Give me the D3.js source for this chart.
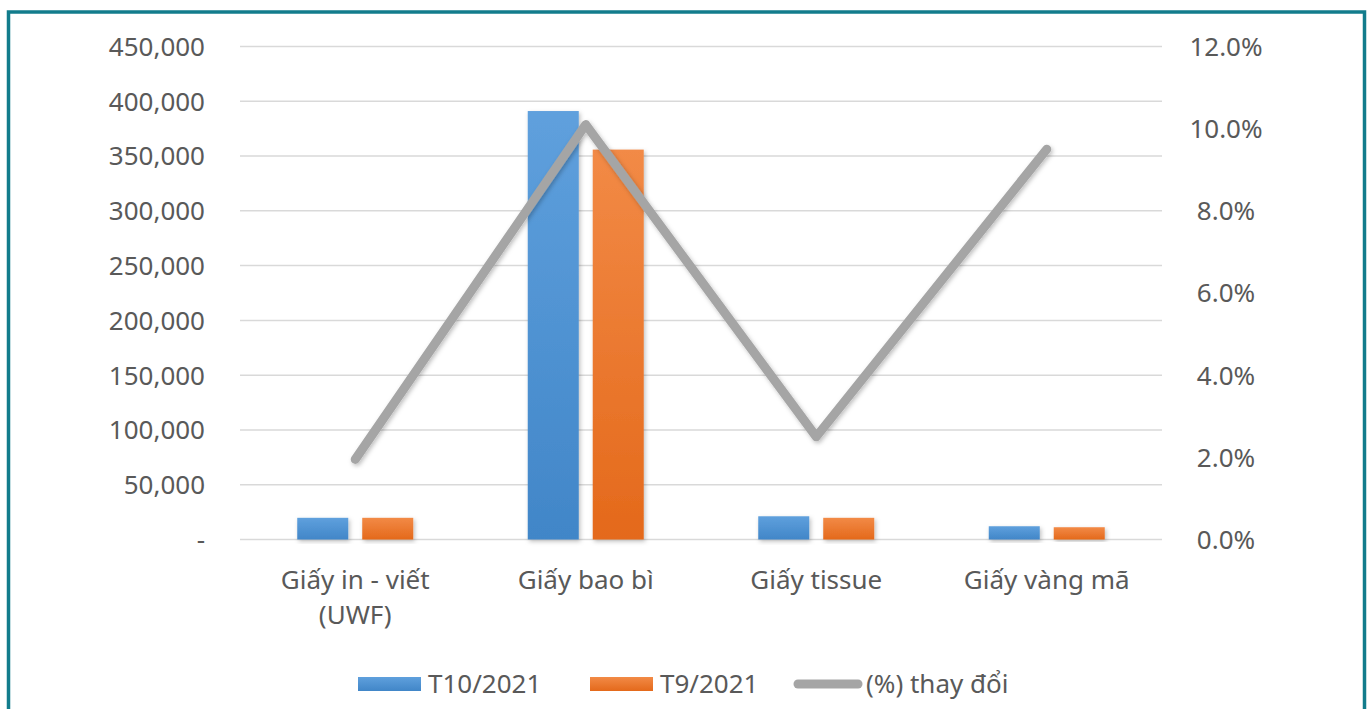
<!DOCTYPE html>
<html>
<head>
<meta charset="utf-8">
<script src="https://cdn.jsdelivr.net/npm/d3@7"></script>
<style>
  html, body { margin: 0; padding: 0; background: #fff; }
  svg { display: block; }
</style>
</head>
<body>
<div id="vis"></div>
<script>
const width = 1370;
const height = 709;

// data
const categories = ["Giấy in - viết\n(UWF)", "Giấy bao bì", "Giấy tissue", "Giấy vàng mã"];
const seriesNames = ["T10/2021", "T9/2021"];
const t10 = [19800, 391100, 21200, 12100];
const t9 = [19800, 355900, 19800, 11200];
const pctChange = [0.0195, 0.101, 0.025, 0.095];
const lineName = "(%) thay đổi";
const leftTicks = [0, 50000, 100000, 150000, 200000, 250000, 300000, 350000, 400000, 450000];
const rightTicks = [0, 0.02, 0.04, 0.06, 0.08, 0.10, 0.12];

const font = "'Noto Sans', 'DejaVu Sans', sans-serif";
const textColor = "#595959";

const svg = d3.select("#vis")
  .append("svg")
  .attr("width", width)
  .attr("height", height);

const defs = svg.append("defs");

function gradient(id, top, bottom) {
  const g = defs.append("linearGradient")
    .attr("id", id)
    .attr("x1", 0).attr("y1", 0).attr("x2", 0).attr("y2", 1);
  g.append("stop").attr("offset", "0%").attr("stop-color", top);
  g.append("stop").attr("offset", "100%").attr("stop-color", bottom);
}
gradient("gBlue", "#5fa0dd", "#4186c8");
gradient("gOrange", "#f28a46", "#e4691b");

const shadow = defs.append("filter")
  .attr("id", "shadow")
  .attr("x", "-20%").attr("y", "-20%").attr("width", "140%").attr("height", "140%");
shadow.append("feDropShadow")
  .attr("dx", 1.5).attr("dy", 2)
  .attr("stdDeviation", 2)
  .attr("flood-color", "#000")
  .attr("flood-opacity", 0.25);

// background + teal frame
svg.append("rect")
  .attr("x", 0).attr("y", 0)
  .attr("width", width).attr("height", height)
  .attr("fill", "#fff");

svg.append("rect")
  .attr("x", 8.5).attr("y", 12)
  .attr("width", 1356).attr("height", 760)
  .attr("fill", "none")
  .attr("stroke", "#127c8c")
  .attr("stroke-width", 3.5);

const plotLeft = 240, plotRight = 1162;

const x0 = d3.scaleBand()
  .domain(categories)
  .range([plotLeft, plotRight]);

const groupWidth = 116;
const x1 = d3.scaleBand()
  .domain(seriesNames)
  .range([0, groupWidth])
  .paddingInner(0.215);

const y = d3.scaleLinear()
  .domain([0, 450000])
  .range([539.5, 46.5]);

const y2 = d3.scaleLinear()
  .domain([0, 0.12])
  .range([539.5, 46.5]);

// gridlines
svg.append("g")
  .selectAll("line")
  .data(leftTicks)
  .enter()
  .append("line")
  .attr("x1", plotLeft)
  .attr("x2", plotRight)
  .attr("y1", d => y(d))
  .attr("y2", d => y(d))
  .attr("stroke", "#d9d9d9")
  .attr("stroke-width", 1.5);

// left axis
const leftAxis = svg.append("g")
  .attr("transform", "translate(205,0)")
  .call(d3.axisLeft(y)
    .tickValues(leftTicks)
    .tickSize(0)
    .tickPadding(0)
    .tickFormat(d => d === 0 ? "-" : d3.format(",")(d)));
leftAxis.select(".domain").remove();
leftAxis.selectAll("text")
  .attr("font-family", font)
  .attr("font-size", "26px")
  .attr("fill", textColor)
  .attr("dy", "0.34em");

// right axis
const rightAxis = svg.append("g")
  .attr("transform", "translate(1226,0)")
  .call(d3.axisRight(y2)
    .tickValues(rightTicks)
    .tickSize(0)
    .tickPadding(0)
    .tickFormat(d3.format(".1%")));
rightAxis.select(".domain").remove();
rightAxis.selectAll("text")
  .attr("font-family", font)
  .attr("font-size", "26px")
  .attr("fill", textColor)
  .attr("text-anchor", "middle")
  .attr("dy", "0.34em");

// bars
const barData = [];
categories.forEach((c, i) => {
  barData.push({ cat: c, series: seriesNames[0], value: t10[i] });
  barData.push({ cat: c, series: seriesNames[1], value: t9[i] });
});

const offset = (x0.bandwidth() - groupWidth) / 2;

svg.append("g")
  .selectAll("rect")
  .data(barData)
  .enter()
  .append("rect")
  .attr("x", d => x0(d.cat) + offset + x1(d.series))
  .attr("y", d => y(d.value))
  .attr("width", x1.bandwidth())
  .attr("height", d => y(0) - y(d.value))
  .attr("fill", d => d.series === seriesNames[0] ? "url(#gBlue)" : "url(#gOrange)")
  .attr("filter", "url(#shadow)");

// percent line
const lineData = categories.map((c, i) => ({ cat: c, value: pctChange[i] }));

svg.append("path")
  .datum(lineData)
  .attr("fill", "none")
  .attr("stroke", "#a5a5a5")
  .attr("stroke-width", 9)
  .attr("stroke-linecap", "round")
  .attr("stroke-linejoin", "round")
  .attr("filter", "url(#shadow)")
  .attr("d", d3.line()
    .x(d => x0(d.cat) + x0.bandwidth() / 2)
    .y(d => y2(d.value)));

// category labels
const catLabels = svg.append("g")
  .selectAll("text")
  .data(categories)
  .enter()
  .append("text")
  .attr("x", d => x0(d) + x0.bandwidth() / 2)
  .attr("y", 589)
  .attr("text-anchor", "middle")
  .attr("font-family", font)
  .attr("font-size", "26px")
  .attr("fill", textColor);

catLabels.each(function (d) {
  const lines = d.split("\n");
  const t = d3.select(this);
  lines.forEach((ln, k) => {
    t.append("tspan")
      .attr("x", x0(d) + x0.bandwidth() / 2)
      .attr("dy", k === 0 ? 0 : 35)
      .text(ln);
  });
});

// legend
const legend = svg.append("g").attr("font-family", font).attr("font-size", "26px").attr("fill", textColor);
const legendItems = [
  { name: seriesNames[0], type: "bar", fill: "url(#gBlue)", x: 358 },
  { name: seriesNames[1], type: "bar", fill: "url(#gOrange)", x: 590 },
  { name: lineName, type: "line", x: 798 }
];

legendItems.forEach(item => {
  if (item.type === "bar") {
    legend.append("rect")
      .attr("x", item.x).attr("y", 677)
      .attr("width", 63).attr("height", 14)
      .attr("fill", item.fill);
    legend.append("text")
      .attr("x", item.x + 70).attr("y", 684)
      .attr("dy", "0.35em")
      .text(item.name);
  } else {
    legend.append("line")
      .attr("x1", item.x).attr("x2", item.x + 60)
      .attr("y1", 684).attr("y2", 684)
      .attr("stroke", "#a5a5a5")
      .attr("stroke-width", 9)
      .attr("stroke-linecap", "round");
    legend.append("text")
      .attr("x", item.x + 68).attr("y", 684)
      .attr("dy", "0.35em")
      .text(item.name);
  }
});
</script>
</body>
</html>
